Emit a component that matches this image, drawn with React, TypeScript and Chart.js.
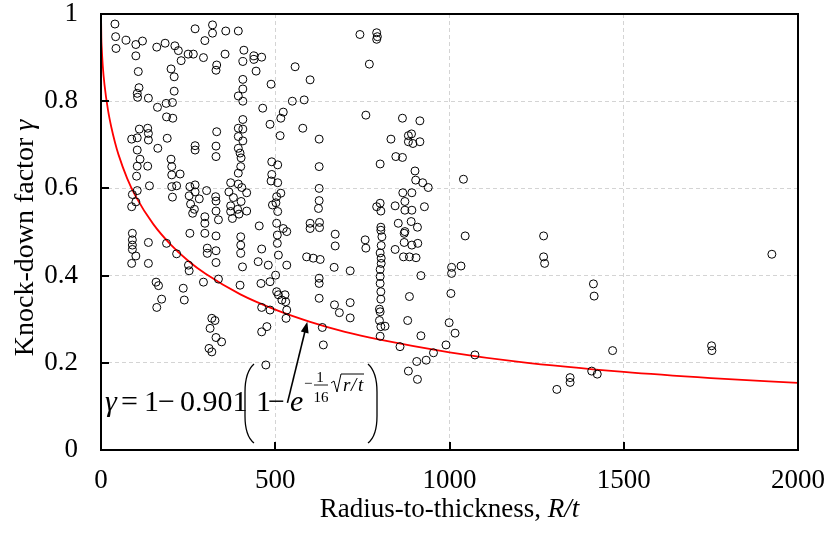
import React, { useEffect, useRef } from 'react';
import { Chart, registerables } from 'chart.js';

Chart.register(...registerables);

const FONT = '"Liberation Serif", "Times New Roman", serif';

const xTickLabels = ['0', '500', '1000', '1500', '2000'];
const yTickLabels = ['0', '0.2', '0.4', '0.6', '0.8', '1'];

const xTitleMain = 'Radius-to-thickness, ';
const xTitleItalic = 'R/t';
const yTitleMain = 'Knock-down factor ';
const yTitleItalic = 'γ';

// Test results: radius-to-thickness ratio R/t
const testRT = [
  40, 42, 43, 72, 100, 119, 100, 160, 184, 212, 222, 230, 250, 265, 294, 270, 320, 320, 298, 332,
  330, 107, 201, 210, 109, 104, 105, 136, 210, 162, 187, 205, 188, 206, 110, 134, 136, 88, 104, 136,
  190, 163, 104, 112, 104, 134, 102, 201, 203, 203, 227, 139, 104, 90, 100, 88, 203, 217, 205, 270,
  270, 332, 330, 330, 255, 270, 253, 270, 282, 303, 257, 268, 263, 298, 298, 329, 330, 330, 337,
  358, 394, 356, 410, 407, 439, 439, 461, 445, 557, 600, 407, 488, 407, 394, 407, 549, 583, 464, 523,
  516, 485, 407, 394, 407, 579, 514, 626, 394, 407, 394, 399, 402, 401, 394, 490, 507, 626, 490, 488,
  507, 626, 516, 504, 502, 626, 624, 492, 507, 372, 394, 367, 404, 418, 380, 402, 372, 392, 418, 372,
  396, 377, 454, 504, 523, 600, 627, 600, 627,
  90, 90, 90, 90, 100, 88, 136, 136, 188, 217, 251, 253, 255, 298, 305, 305, 330, 330, 330, 294,
  337, 158, 165, 174, 160, 236, 239, 318, 327, 313, 330, 310, 318, 346,
  401, 401, 401, 406, 399, 506, 506, 509, 533, 451, 480, 461, 533, 590, 609, 629, 626, 626, 626, 459,
  485, 501, 504, 509, 528, 530, 519, 461, 485, 533, 531, 461, 476, 635, 638, 473,
  743, 791, 793, 791, 770, 760, 865, 915, 832, 882, 891, 882, 895, 915, 846, 865, 801, 901, 903, 923,
  939, 866, 892, 872, 791, 801, 803, 844, 872, 892, 928, 803, 853, 890, 908, 872, 672,
  672, 669, 715, 758, 760, 806, 804, 804, 804, 801, 801, 801, 803, 803, 799, 801, 799, 803, 815, 801,
  844, 870, 870, 892, 909, 868, 885, 904, 918, 885, 880, 918, 858, 954, 933, 906, 882, 908, 670, 684,
  715, 715, 803, 801,
  1040, 1045, 1270, 1270, 1273, 1006, 1033, 1006, 1004, 999, 1016, 990, 1073, 1308,
  1413, 1415, 1468, 1346, 1346, 1408, 1424, 1752, 1753, 1925,
];

// Test results: knock-down factor gamma
const testGamma = [
  0.977, 0.948, 0.921, 0.940, 0.930, 0.938, 0.904, 0.924, 0.933, 0.927, 0.916, 0.893, 0.908, 0.908, 0.900, 0.966, 0.975, 0.956, 0.939, 0.883,
  0.871, 0.868, 0.874, 0.856, 0.831, 0.818, 0.809, 0.807, 0.823, 0.786, 0.795, 0.797, 0.764, 0.761, 0.736, 0.738, 0.726, 0.713, 0.716, 0.711,
  0.715, 0.692, 0.688, 0.667, 0.651, 0.651, 0.628, 0.667, 0.650, 0.631, 0.633, 0.606, 0.595, 0.586, 0.569, 0.558, 0.604, 0.606, 0.580, 0.698,
  0.688, 0.730, 0.697, 0.673, 0.604, 0.608, 0.583, 0.592, 0.576, 0.595, 0.564, 0.552, 0.543, 0.535, 0.520, 0.581, 0.571, 0.548, 0.528,
  0.961, 0.961, 0.908, 0.917, 0.891, 0.904, 0.896, 0.901, 0.869, 0.879, 0.849, 0.850, 0.839, 0.828, 0.812, 0.800, 0.800, 0.803, 0.784, 0.775,
  0.761, 0.747, 0.758, 0.738, 0.736, 0.738, 0.721, 0.713, 0.719, 0.709, 0.692, 0.681, 0.670, 0.650, 0.635, 0.661, 0.654, 0.650, 0.632, 0.617,
  0.613, 0.600, 0.589, 0.581, 0.567, 0.572, 0.554, 0.562, 0.547, 0.613, 0.610, 0.592, 0.602, 0.590, 0.579, 0.570, 0.560, 0.552, 0.548, 0.547,
  0.541, 0.531, 0.514, 0.520, 0.508, 0.520, 0.522, 0.508, 0.510,
  0.497, 0.482, 0.470, 0.460, 0.445, 0.428, 0.476, 0.428, 0.474, 0.450, 0.424, 0.411, 0.497, 0.497, 0.463, 0.451, 0.457, 0.430, 0.491, 0.385,
  0.392, 0.385, 0.377, 0.346, 0.327, 0.371, 0.344, 0.302, 0.297, 0.279, 0.258, 0.233, 0.225, 0.248,
  0.489, 0.470, 0.451, 0.420, 0.378, 0.493, 0.474, 0.447, 0.424, 0.432, 0.424, 0.461, 0.501, 0.443, 0.440, 0.437, 0.394, 0.382, 0.348, 0.382,
  0.386, 0.401, 0.363, 0.356, 0.356, 0.340, 0.344, 0.327, 0.321, 0.321, 0.302, 0.271, 0.283, 0.281, 0.241, 0.195,
  0.953, 0.957, 0.948, 0.942, 0.885, 0.768, 0.761, 0.755, 0.713, 0.721, 0.725, 0.707, 0.703, 0.707, 0.673, 0.671, 0.656, 0.640, 0.619, 0.613,
  0.602, 0.590, 0.590, 0.570, 0.558, 0.566, 0.548, 0.560, 0.550, 0.550, 0.558, 0.511, 0.520, 0.524, 0.511, 0.501, 0.495,
  0.468, 0.419, 0.411, 0.482, 0.463, 0.489, 0.469, 0.440, 0.428, 0.414, 0.398, 0.382, 0.363, 0.346, 0.323, 0.317, 0.297, 0.283, 0.284, 0.261,
  0.460, 0.497, 0.476, 0.470, 0.474, 0.443, 0.443, 0.441, 0.400, 0.352, 0.297, 0.262, 0.237, 0.223, 0.206, 0.203, 0.181, 0.162, 0.333, 0.315,
  0.338, 0.303, 0.504, 0.452,
  0.621, 0.491, 0.491, 0.443, 0.428, 0.419, 0.422, 0.405, 0.359, 0.292, 0.268, 0.241, 0.218, 0.139,
  0.381, 0.353, 0.228, 0.166, 0.155, 0.181, 0.174, 0.239, 0.228, 0.449,
];

// Red design curve
const curveRT = [0, 1, 2, 5, 10, 20, 30, 40, 50, 75, 100, 150, 200, 250, 300, 400, 500, 600, 700, 800, 1000, 1200, 1500, 1750, 2000];
const curveGamma = [1, 0.945, 0.924, 0.882, 0.838, 0.78, 0.739, 0.706, 0.678, 0.623, 0.581, 0.518, 0.471, 0.434, 0.404, 0.357, 0.322, 0.294, 0.271, 0.253, 0.224, 0.202, 0.179, 0.165, 0.154];

const xTickValues = [0, 500, 1000, 1500, 2000];
const yTickValues = [0, 0.2, 0.4, 0.6, 0.8, 1];

const decorPlugin = {
  id: 'decor',
  afterDraw(chart: any) {
    const { ctx, chartArea: a, scales } = chart;
    const xs = scales.x;
    const ys = scales.y;
    ctx.save();

    // inward tick marks
    ctx.strokeStyle = '#000';
    ctx.lineWidth = 2;
    ctx.beginPath();
    xTickValues.slice(1, -1).forEach((v) => {
      const px = Math.round(xs.getPixelForValue(v));
      ctx.moveTo(px, a.bottom);
      ctx.lineTo(px, a.bottom - 8);
    });
    yTickValues.slice(1, -1).forEach((v) => {
      const py = Math.round(ys.getPixelForValue(v));
      ctx.moveTo(a.left, py);
      ctx.lineTo(a.left + 8, py);
    });
    ctx.stroke();

    // frame
    ctx.lineWidth = 2;
    ctx.strokeRect(a.left, a.top, a.right - a.left, a.bottom - a.top);

    ctx.fillStyle = '#000';
    ctx.textBaseline = 'alphabetic';
    ctx.textAlign = 'left';

    // x title
    ctx.font = `27px ${FONT}`;
    const w1 = ctx.measureText(xTitleMain).width;
    ctx.font = `italic 27px ${FONT}`;
    const w2 = ctx.measureText(xTitleItalic).width;
    const cx = (a.left + a.right) / 2;
    const sx = cx - (w1 + w2) / 2;
    ctx.font = `27px ${FONT}`;
    ctx.fillText(xTitleMain, sx, 517);
    ctx.font = `italic 27px ${FONT}`;
    ctx.fillText(xTitleItalic, sx + w1, 517);

    // y title
    ctx.save();
    ctx.translate(33, (a.top + a.bottom) / 2 + 6);
    ctx.rotate(-Math.PI / 2);
    ctx.font = `28px ${FONT}`;
    const v1 = ctx.measureText(yTitleMain).width;
    ctx.font = `italic 28px ${FONT}`;
    const v2 = ctx.measureText(yTitleItalic).width;
    const s2 = -(v1 + v2) / 2;
    ctx.font = `28px ${FONT}`;
    ctx.fillText(yTitleMain, s2, 0);
    ctx.font = `italic 28px ${FONT}`;
    ctx.fillText(yTitleItalic, s2 + v1, 0);
    ctx.restore();

    // formula annotation
    const bx = a.left;
    const by = a.bottom;
    const base = by - 39;
    ctx.font = `italic 30px ${FONT}`;
    ctx.fillText('γ', bx + 4, base);
    ctx.font = `30px ${FONT}`;
    ctx.fillText('=', bx + 20, base);
    ctx.fillText('1', bx + 43, base);
    ctx.fillText('−', bx + 57, base);
    ctx.fillText('0.901', bx + 79, base);
    ctx.fillText('1', bx + 155, base);
    ctx.fillText('−', bx + 167, base);
    ctx.font = `italic 30px ${FONT}`;
    ctx.fillText('e', bx + 189, base);

    // exponent
    ctx.font = `15px ${FONT}`;
    ctx.fillText('−', bx + 203, by - 62);
    ctx.textAlign = 'center';
    ctx.fillText('1', bx + 219, by - 68);
    ctx.fillText('16', bx + 220, by - 48);
    ctx.lineWidth = 0.9;
    ctx.beginPath();
    ctx.moveTo(bx + 213, by - 65);
    ctx.lineTo(bx + 227, by - 65);
    ctx.stroke();
    ctx.textAlign = 'left';

    // radical
    ctx.lineWidth = 1;
    ctx.beginPath();
    ctx.moveTo(bx + 230, by - 67);
    ctx.lineTo(bx + 233, by - 69);
    ctx.lineTo(bx + 236, by - 58);
    ctx.lineTo(bx + 240, by - 76);
    ctx.lineTo(bx + 263, by - 76);
    ctx.stroke();
    ctx.font = `italic 19px ${FONT}`;
    ctx.fillText('r', bx + 242, by - 59);
    ctx.fillText('/', bx + 250, by - 59);
    ctx.fillText('t', bx + 257, by - 59);

    // big parentheses
    ctx.lineWidth = 1.3;
    const L = bx + 144;
    ctx.beginPath();
    ctx.moveTo(L + 9, by - 86);
    ctx.quadraticCurveTo(L, by - 78, L, by - 58);
    ctx.lineTo(L, by - 34);
    ctx.quadraticCurveTo(L, by - 14, L + 9, by - 7);
    ctx.stroke();
    const R = bx + 276;
    ctx.beginPath();
    ctx.moveTo(R - 9, by - 86);
    ctx.quadraticCurveTo(R, by - 78, R, by - 58);
    ctx.lineTo(R, by - 34);
    ctx.quadraticCurveTo(R, by - 14, R - 9, by - 7);
    ctx.stroke();

    // arrow pointing at the curve
    const tx = xs.getPixelForValue(592);
    const ty = ys.getPixelForValue(0.294);
    const fx = xs.getPixelForValue(535);
    const fy = ys.getPixelForValue(0.108);
    const dx = tx - fx;
    const dy = ty - fy;
    const len = Math.hypot(dx, dy);
    const ux = dx / len;
    const uy = dy / len;
    ctx.lineWidth = 1.6;
    ctx.beginPath();
    ctx.moveTo(fx, fy);
    ctx.lineTo(tx - ux * 9, ty - uy * 9);
    ctx.stroke();
    ctx.beginPath();
    ctx.moveTo(tx, ty);
    ctx.lineTo(tx - ux * 11 - uy * 4, ty - uy * 11 + ux * 4);
    ctx.lineTo(tx - ux * 11 + uy * 4, ty - uy * 11 - ux * 4);
    ctx.closePath();
    ctx.fill();

    ctx.restore();
  },
};

const zeroPadding = (s: any) => {
  s.paddingTop = 0;
  s.paddingBottom = 0;
  s.paddingLeft = 0;
  s.paddingRight = 0;
};

export default function App() {
  const ref = useRef<HTMLCanvasElement | null>(null);

  useEffect(() => {
    let chart: Chart | null = null;
    let cancelled = false;

    const build = () => {
      if (cancelled || !ref.current) return;
      const points = testRT.map((x, i) => ({ x, y: testGamma[i] }));
      const curve = curveRT.map((x, i) => ({ x, y: curveGamma[i] }));
      const gridColor = (c: any) =>
        c.index === 0 || c.index === c.scale.ticks.length - 1 ? 'rgba(0,0,0,0)' : '#d4d4d4';

      chart = new Chart(ref.current, {
        type: 'scatter',
        data: {
          datasets: [
            {
              label: 'Test data',
              data: points,
              showLine: false,
              pointRadius: 4,
              pointBorderWidth: 1,
              pointBorderColor: '#000',
              pointBackgroundColor: 'rgba(0,0,0,0)',
            },
            {
              type: 'line',
              label: 'Design curve',
              data: curve,
              showLine: true,
              borderColor: '#ff0000',
              borderWidth: 1.8,
              pointRadius: 0,
              cubicInterpolationMode: 'monotone',
              fill: false,
            } as any,
          ],
        },
        options: {
          responsive: false,
          animation: false,
          devicePixelRatio: 1,
          layout: { padding: { top: 14, right: 31, left: 0, bottom: 0 } },
          plugins: { legend: { display: false }, tooltip: { enabled: false } },
          scales: {
            x: {
              type: 'linear',
              min: 0,
              max: 2000,
              afterFit: (s: any) => {
                s.height = 85;
                zeroPadding(s);
              },
              afterBuildTicks: (s: any) => {
                s.ticks = xTickValues.map((v) => ({ value: v }));
              },
              ticks: {
                callback: (_v: any, i: number) => xTickLabels[i],
                color: '#000',
                font: { family: FONT, size: 27, lineHeight: 1 },
                padding: 17,
                maxRotation: 0,
              },
              grid: { color: gridColor, lineWidth: 1, drawTicks: false },
              border: { display: false, dash: [4, 3] },
            },
            y: {
              type: 'linear',
              min: 0,
              max: 1,
              afterFit: (s: any) => {
                s.width = 101;
                zeroPadding(s);
              },
              afterBuildTicks: (s: any) => {
                s.ticks = yTickValues.map((v) => ({ value: v }));
              },
              ticks: {
                callback: (_v: any, i: number) => yTickLabels[i],
                color: '#000',
                font: { family: FONT, size: 27, lineHeight: 1 },
                padding: 23,
              },
              grid: { color: gridColor, lineWidth: 1, drawTicks: false },
              border: { display: false, dash: [4, 3] },
            },
          },
        },
        plugins: [decorPlugin],
      });
    };

    const fontsReady = (document as any).fonts
      ? Promise.all([
          (document as any).fonts.load('27px "Liberation Serif"'),
          (document as any).fonts.load('italic 27px "Liberation Serif"'),
        ])
      : Promise.resolve();
    fontsReady.then(build, build);

    return () => {
      cancelled = true;
      if (chart) chart.destroy();
    };
  }, []);

  return (
    <div style={{ position: 'absolute', left: 0, top: 0, width: 829, height: 535, background: '#fff' }}>
      <canvas ref={ref} width={829} height={535} style={{ display: 'block' }} />
    </div>
  );
}
